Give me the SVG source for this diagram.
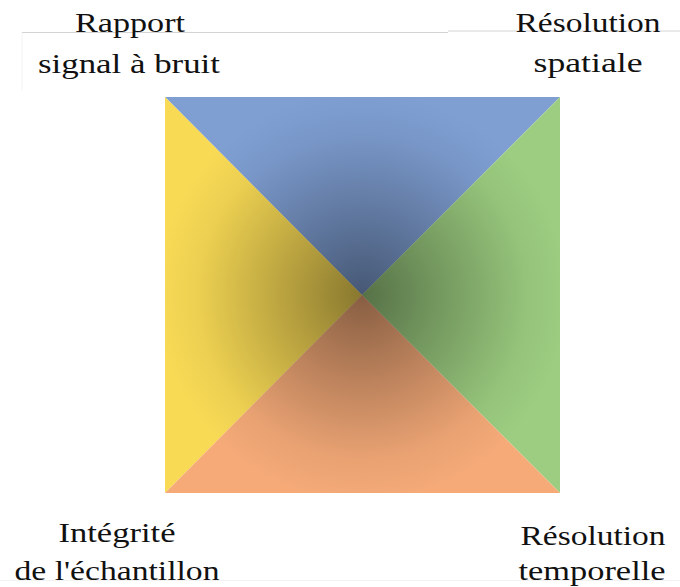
<svg xmlns="http://www.w3.org/2000/svg" width="680" height="587" viewBox="0 0 680 587">
<style>
.rule{stroke:#d4d4d4;stroke-width:1;fill:none}
.lbl{font-family:'Liberation Serif','Times New Roman',serif;font-size:28px;fill:#111;text-anchor:middle}
</style>
<defs>
<radialGradient id="shade" cx="362" cy="295" r="205" gradientUnits="userSpaceOnUse">
<stop offset="0" stop-color="#000" stop-opacity="0.45"/>
<stop offset="0.45" stop-color="#000" stop-opacity="0.22"/>
<stop offset="0.8" stop-color="#000" stop-opacity="0.05"/>
<stop offset="1" stop-color="#000" stop-opacity="0"/>
</radialGradient>
<clipPath id="sq"><rect x="165" y="97" width="395" height="396"/></clipPath>
</defs>
<rect width="680" height="587" fill="#fff"/>
<g id="rules">
<path class="rule" d="M22 32.5H448M448 31H680"/>
<path class="rule" d="M22 32.5V90" stroke-opacity="0.3"/>
<path class="rule" d="M0 580.5H680" stroke-opacity="0.3"/>
</g>
<g id="square">
<polygon id="top" points="165,97 560,97 362,295" fill="#7f9fd3"/>
<polygon id="left" points="165,97 362,295 165,493" fill="#f8da55"/>
<polygon id="right" points="560,97 560,493 362,295" fill="#9ccd80"/>
<polygon id="bottom" points="165,493 362,295 560,493" fill="#f5aa78"/>
<rect x="165" y="97" width="395" height="396" fill="url(#shade)" clip-path="url(#sq)"/>
</g>
<g id="labels">
<g id="snr"><text class="lbl" x="130" y="32" textLength="110" lengthAdjust="spacingAndGlyphs">Rapport</text>
<text class="lbl" x="129" y="73" textLength="182" lengthAdjust="spacingAndGlyphs">signal à bruit</text></g>
<g id="spatial"><text class="lbl" x="588" y="32" textLength="145" lengthAdjust="spacingAndGlyphs">Résolution</text>
<text class="lbl" x="588" y="72" textLength="109" lengthAdjust="spacingAndGlyphs">spatiale</text></g>
<g id="integrity"><text class="lbl" x="117" y="542" textLength="117" lengthAdjust="spacingAndGlyphs">Intégrité</text>
<text class="lbl" x="117" y="580" textLength="205" lengthAdjust="spacingAndGlyphs">de l'échantillon</text></g>
<g id="temporal"><text class="lbl" x="593" y="545" textLength="145" lengthAdjust="spacingAndGlyphs">Résolution</text>
<text class="lbl" x="592" y="580" textLength="147" lengthAdjust="spacingAndGlyphs">temporelle</text></g>
</g>
</svg>
